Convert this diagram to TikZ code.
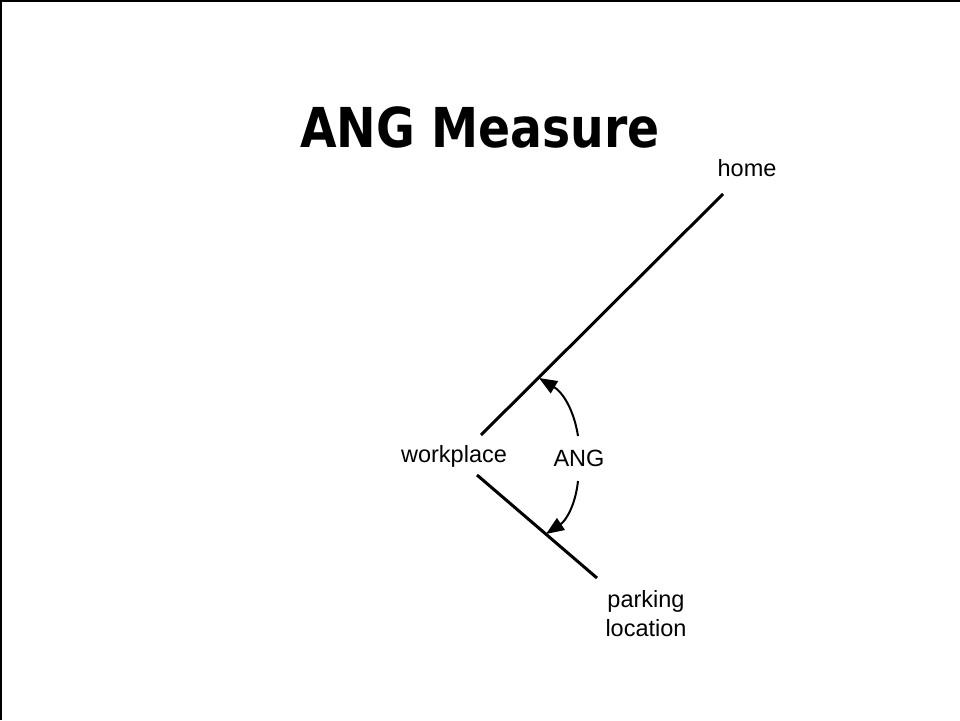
\documentclass[tikz,border=0pt]{standalone}
\usepackage{fontspec}
\setmainfont{Liberation Sans}
\newfontfamily\titlefont{DejaVu Sans}[FakeStretch=0.86]
\usetikzlibrary{arrows.meta}
\begin{document}
\begin{tikzpicture}[x=1pt,y=-1pt,
  lbl/.style={inner sep=0pt,font=\fontsize{23.5}{29}\selectfont,align=center},
  ray/.style={line width=3pt},
  angarrow/.style={line width=2pt,-{Triangle[length=18pt,width=14pt]}}]
\useasboundingbox (0,0) rectangle (960,720);
\fill[white] (0,0) rectangle (960,720);
\coordinate (frameBL) at (0.75,720);
\coordinate (frameTL) at (0.75,0.75);
\coordinate (frameTR) at (960,0.75);
\draw[line width=1.75pt] (frameBL) -- (frameTL) -- (frameTR);
\node[inner sep=0pt,font=\titlefont\bfseries\fontsize{55}{60}\selectfont] (title) at (480,127) {ANG Measure};
\node[lbl] (home) at (747,168) {home};
\node[lbl] (workplace) at (454,456) {workplace};
\node[lbl] (ang) at (579,458) {ANG};
\node[lbl] (parking) at (646,614) {parking\\location};
\coordinate (r1s) at (481,435);
\coordinate (r1e) at (723,194);
\coordinate (r2s) at (477,475);
\coordinate (r2e) at (597,578);
\draw[ray] (r1s) -- (r1e);
\draw[ray] (r2s) -- (r2e);
\coordinate (a1s) at (578,436);
\coordinate (a1e) at (539,378);
\coordinate (a2s) at (578,481);
\coordinate (a2e) at (546,534);
\draw[angarrow] (a1s) to[bend right=25] (a1e);
\draw[angarrow] (a2s) to[bend left=25] (a2e);
\end{tikzpicture}
\end{document}
